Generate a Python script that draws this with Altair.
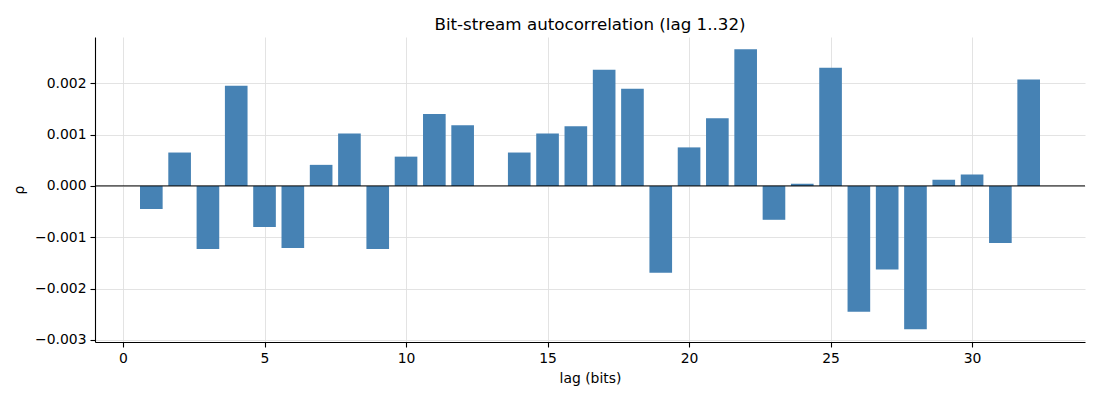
import altair as alt
import pandas as pd

lags = list(range(1, 33))
rho = [
    -0.00045, 0.00065, -0.00123, 0.00195, -0.00080, -0.00121, 0.00041, 0.00102,
    -0.00123, 0.00057, 0.00140, 0.00118, 0.00000, 0.00065, 0.00102, 0.00116,
    0.00226, 0.00189, -0.00169, 0.00075, 0.00132, 0.00266, -0.00066, 0.00004,
    0.00230, -0.00245, -0.00163, -0.00279, 0.00012, 0.00022, -0.00111, 0.00207,
]
x_ticks = [0, 5, 10, 15, 20, 25, 30]
y_ticks = [-0.003, -0.002, -0.001, 0.0, 0.001, 0.002]

df = pd.DataFrame({"lag": lags, "rho": rho})

FONT = "DejaVu Sans"

xscale = alt.Scale(domain=[-0.99, 33.99], nice=False, zero=False)
yscale = alt.Scale(domain=[-0.00304, 0.00290], nice=False, zero=False)

bars = alt.Chart(df).transform_calculate(
    x0="datum.lag - 0.4", x1="datum.lag + 0.4"
).mark_bar(color="#4682b4").encode(
    x=alt.X("x0:Q", scale=xscale, title="lag (bits)",
            axis=alt.Axis(values=x_ticks, format="d", grid=True)),
    x2="x1:Q",
    y=alt.Y("rho:Q", scale=yscale, title="ρ",
            axis=alt.Axis(values=y_ticks, format=".3f", grid=True,
                          labelExpr="replace(datum.label, '-', '\u2212')")),
    y2=alt.datum(0),
)

zero = alt.Chart(pd.DataFrame({"z": [0.0]})).mark_rule(
    color="black", strokeWidth=1
).encode(y=alt.Y("z:Q", scale=yscale))

chart = alt.layer(bars, zero).properties(
    width=990,
    height=305,
    title=alt.TitleParams(
        "Bit-stream autocorrelation (lag 1..32)",
        font=FONT, fontSize=16.7, fontWeight="normal", color="black",
        anchor="middle", frame="group", offset=3,
    ),
    autosize=alt.AutoSizeParams(type="none"),
    padding={"left": 87, "top": 29, "right": 7, "bottom": 50},
).configure_view(stroke=None).configure_axis(
    labelFont=FONT, labelFontSize=13.9, labelColor="black",
    titleFont=FONT, titleFontSize=13.9, titleColor="black", titleFontWeight="normal",
    domainColor="black", domainWidth=1.1,
    tickColor="black", tickSize=5, tickWidth=1.1,
    labelPadding=4,
    gridColor="#e0e0e0", gridWidth=0.9,
    zindex=1,
).configure_axisX(titlePadding=7).configure_axisY(titlePadding=8)

chart.save("out.html", embed_options={"renderer": "svg", "actions": False})
